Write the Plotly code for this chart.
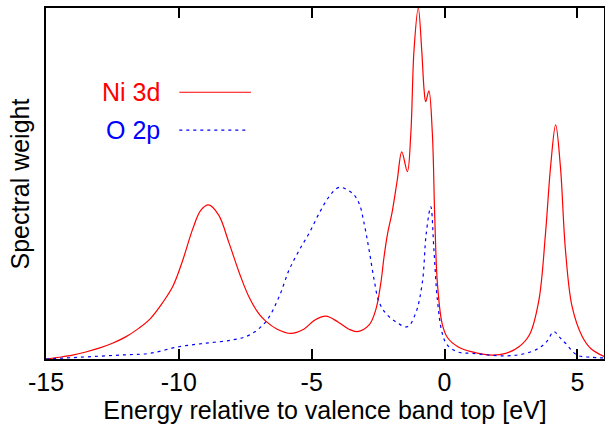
import plotly.graph_objects as go

# Ni 3d spectral weight
ni_energy = [-15, -14.5, -14, -13.5, -13, -12.5, -12, -11.5, -11.1, -10.73, -10.24, -9.86,
             -9.48, -9.17, -8.88, -8.5, -8.11, -7.7, -7.35, -7.0, -6.73, -6.3, -5.79, -5.3, -4.9,
             -4.47, -4.0, -3.6, -3.28, -2.84, -2.59, -2.40, -2.28, -2.15, -1.97, -1.78, -1.61, -1.40,
             -1.27, -1.15, -0.99, -0.86, -0.77, -0.71, -0.59, -0.46, -0.37, -0.27, -0.09, 0.1,
             0.5, 1.0, 1.79, 2.3, 2.8, 3.2, 3.55, 3.8, 3.99, 4.18, 4.36, 4.55, 4.8, 5.18, 5.5, 6.0]
ni_weight = [0.0, 0.005, 0.011, 0.02, 0.031, 0.045, 0.063, 0.088, 0.113, 0.148, 0.205, 0.28,
             0.37, 0.424, 0.439, 0.41, 0.33, 0.24, 0.175, 0.13, 0.108, 0.085, 0.073, 0.085, 0.11,
             0.122, 0.105, 0.085, 0.078, 0.097, 0.14, 0.216, 0.29, 0.355, 0.42, 0.51, 0.59, 0.534,
             0.643, 0.88, 1.0, 0.88, 0.766, 0.733, 0.764, 0.643, 0.405, 0.216, 0.10, 0.062,
             0.035, 0.021, 0.011, 0.016, 0.035, 0.07, 0.168, 0.359, 0.548, 0.667, 0.548, 0.31,
             0.149, 0.064, 0.03, 0.007]

# O 2p spectral weight
o_energy = [-15, -14, -13, -12, -11.1, -10, -9, -8, -7.35, -6.73, -6.23, -5.85, -5.47, -5.10,
            -4.72, -4.35, -3.97, -3.47, -3.22, -3.03, -2.84, -2.65, -2.47, -2.21, -1.84, -1.40,
            -1.09, -0.84, -0.69, -0.52, -0.40, -0.27, -0.09, 0.1, 0.5, 1.04, 2.3, 3.0, 3.55,
            3.85, 4.11, 4.35, 4.55, 4.99, 5.5, 6.0]
o_weight = [0.0, 0.004, 0.008, 0.012, 0.016, 0.035, 0.045, 0.054, 0.068, 0.106, 0.177, 0.254,
            0.31, 0.358, 0.415, 0.462, 0.489, 0.472, 0.444, 0.387, 0.31, 0.225, 0.163, 0.13,
            0.106, 0.092, 0.13, 0.216, 0.358, 0.434, 0.31, 0.168, 0.074, 0.04, 0.02, 0.016,
            0.009, 0.015, 0.031, 0.05, 0.078, 0.06, 0.045, 0.011, 0.005, 0.003]

x_ticks = [-15, -10, -5, 0, 5]
series_names = ["Ni 3d", "O 2p"]

FONT = "Liberation Sans, Arial, sans-serif"
FS = 25

fig = go.Figure()
fig.add_trace(go.Scatter(x=ni_energy, y=ni_weight, mode="lines", name=series_names[0],
                         line=dict(color="#ff0000", width=1.2, shape="spline", smoothing=1.0)))
fig.add_trace(go.Scatter(x=o_energy, y=o_weight, mode="lines", name=series_names[1],
                         line=dict(color="#0000ff", width=1.2, dash="3px,4px", shape="spline", smoothing=1.0)))

# gnuplot-style key: text on the left, line sample on the right
fig.add_annotation(x=0.2074, y=0.760, xref="paper", yref="paper", text=series_names[0],
                   showarrow=False, xanchor="right", yanchor="middle",
                   font=dict(family=FONT, size=FS, color="#ff0000"))
fig.add_annotation(x=0.2074, y=0.652, xref="paper", yref="paper", text=series_names[1],
                   showarrow=False, xanchor="right", yanchor="middle",
                   font=dict(family=FONT, size=FS, color="#0000ff"))
fig.add_shape(type="line", xref="paper", yref="paper", x0=0.2389, x1=0.3674, y0=0.760, y1=0.760,
              line=dict(color="#ff0000", width=1.2))
fig.add_shape(type="line", xref="paper", yref="paper", x0=0.2389, x1=0.3579, y0=0.652, y1=0.652,
              line=dict(color="#0000ff", width=1.2, dash="3px,4px"))

# y-axis title
fig.add_annotation(x=-0.0466, y=0.5, xref="paper", yref="paper", text="Spectral weight",
                   showarrow=False, textangle=-90, xanchor="center", yanchor="middle",
                   font=dict(family=FONT, size=FS, color="black"))

fig.update_layout(
    width=605, height=437,
    margin=dict(l=46, r=1, t=8, b=78),
    paper_bgcolor="white", plot_bgcolor="white",
    showlegend=False,
    font=dict(family=FONT, size=FS, color="black"),
    xaxis=dict(range=[-15, 6], tickvals=x_ticks, ticktext=[str(v) for v in x_ticks],
               ticks="inside", ticklen=10, tickwidth=1.5, tickcolor="black",
               showline=True, linecolor="black", linewidth=1.5, mirror="ticks",
               showgrid=False, zeroline=False, automargin=False,
               tickfont=dict(family=FONT, size=FS),
               title=dict(text="Energy relative to valence band top [eV]",
                          font=dict(family=FONT, size=FS), standoff=4)),
    yaxis=dict(range=[0, 1.0], showticklabels=False, ticks="", automargin=False,
               showline=True, linecolor="black", linewidth=1.5, mirror=True,
               showgrid=False, zeroline=False),
)

fig.write_html("out.html", config={"displayModeBar": False},
               post_script="document.body.style.margin='0';document.body.style.overflow='hidden';")
